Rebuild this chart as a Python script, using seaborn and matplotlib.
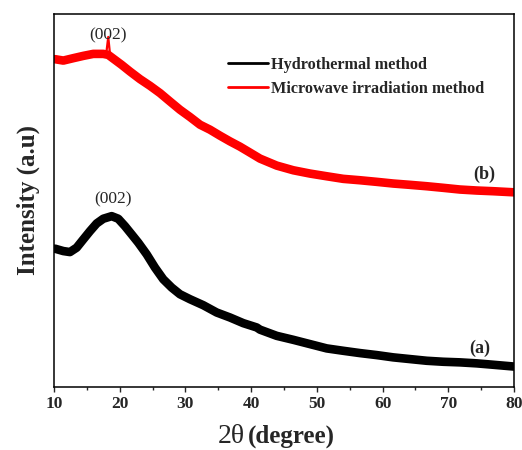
import numpy as np
import pandas as pd
import seaborn as sns
import matplotlib.pyplot as plt
from matplotlib.lines import Line2D
from matplotlib.ticker import MultipleLocator

sns.set_style("ticks")
plt.rcParams['font.family'] = ['Liberation Serif', 'DejaVu Serif']

# (a) Hydrothermal method
two_theta_a = [10.15, 11.42, 12.43, 13.45, 14.46, 15.48, 16.50, 17.50, 18.78, 19.78,
               20.80, 21.82, 22.83, 24.11, 25.37, 26.63, 27.91, 29.17, 30.70, 32.72,
               34.76, 36.78, 38.81, 40.85, 41.35, 43.89, 46.42, 48.96, 51.50, 54.02,
               56.57, 59.11, 61.63, 64.17, 66.72, 69.24, 71.78, 74.32, 76.85, 80.0]
intensity_a = [138.7, 136.3, 135.3, 139.7, 148, 156.3, 164, 168.7, 171.3, 168.7,
               161.3, 153, 144.7, 133, 119.7, 108, 99.7, 93, 88, 82,
               74.7, 69.7, 64, 59.7, 57.5, 51.3, 47.3, 43, 38.7, 36.3,
               34, 32, 29.7, 28, 26.3, 25.3, 24.7, 23.7, 22.3, 20.5]

# (b) Microwave irradiation method
two_theta_b = [10.15, 11.42, 12.94, 14.46, 15.98, 17.50, 18.26, 19.28, 20.30, 21.57,
               23.09, 24.61, 26.13, 27.65, 29.17, 30.70, 32.22, 33.74, 35.26, 36.78,
               38.30, 39.83, 41.35, 43.89, 46.42, 48.96, 51.50, 54.02, 56.57, 59.11,
               61.63, 64.17, 66.72, 69.24, 71.78, 74.32, 76.85, 80.0]
intensity_b = [328.7, 327.3, 329.7, 332, 334, 334, 333, 328, 323, 316.3,
               308.7, 302, 294.7, 286.3, 278, 270.7, 263, 258, 252, 246.3,
               241, 235, 229, 222, 217.3, 214, 211.3, 208.7, 207.3, 205.7,
               204, 202.7, 201.3, 199.7, 198, 197, 196.3, 195.2]

# sharp (002) spike on curve (b)
spike_theta = [17.95, 18.26, 18.55]
spike_intensity = [334, 351, 332]

labels = ['Hydrothermal method', 'Microwave irradiation method']
colors = ['black', 'red']

fig = plt.figure(figsize=(5.22, 4.5), dpi=100)
ax = fig.add_axes([0.1034, 0.14, 0.8813, 0.8289])

sns.lineplot(x=two_theta_a, y=intensity_a, color=colors[0], lw=6.2, ax=ax,
             solid_joinstyle='round')
sns.lineplot(x=two_theta_b, y=intensity_b, color=colors[1], lw=6.2, ax=ax,
             solid_joinstyle='round')
ax.plot(spike_theta, spike_intensity, color=colors[1], lw=1.6)

ax.set_xlim(10, 80)
ax.set_ylim(0, 374)
ax.xaxis.set_major_locator(MultipleLocator(10))
ax.xaxis.set_minor_locator(MultipleLocator(5))
ax.set_yticks([])
ax.tick_params(axis='x', which='major', direction='out', length=3.5, width=1,
               labelsize=12.5, pad=3)
ax.tick_params(axis='x', which='minor', direction='out', length=2.5, width=1)
for lab in ax.get_xticklabels():
    lab.set_fontweight('bold')
for s in ax.spines.values():
    s.set_visible(True)
    s.set_linewidth(1.1)
    s.set_color('black')

ax.set_ylabel('Intensity (a.u)', fontsize=18, fontweight='bold', labelpad=10)
fig.text(245 / 522, 1 - 443 / 450, '2θ', fontsize=20, ha='right', va='baseline')
fig.text(248 / 522, 1 - 443 / 450, '(degree)', fontsize=18, fontweight='bold',
         ha='left', va='baseline')

ax.text(18.2, 345, '(002)', fontsize=12.5, ha='center', va='bottom')
ax.text(19.0, 180, '(002)', fontsize=12.5, ha='center', va='bottom')
ax.text(75.5, 213, '(b)', fontsize=13, fontweight='bold', ha='center', va='center')
ax.text(74.8, 39, '(a)', fontsize=13, fontweight='bold', ha='center', va='center')

handles = [Line2D([], [], color=c, lw=2) for c in colors]
leg = ax.legend(handles, labels, loc='upper left', bbox_to_anchor=(0.378, 0.886),
                frameon=False, borderaxespad=0, borderpad=0, handlelength=2.5,
                handletextpad=0.15, labelspacing=0.5,
                prop={'family': 'Liberation Serif', 'weight': 'bold', 'size': 11.7})

fig.savefig('out.png', dpi=100)
